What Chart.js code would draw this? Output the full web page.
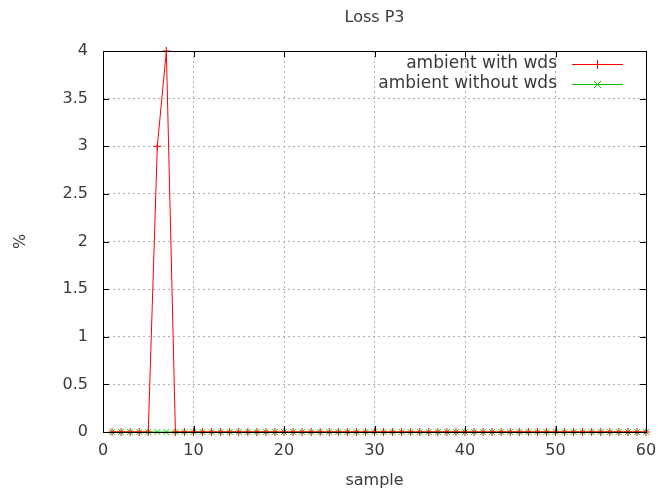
<!DOCTYPE html>
<html>
<head>
<meta charset="utf-8">
<script src="https://cdn.jsdelivr.net/npm/chart.js@4.4.0/dist/chart.umd.min.js"></script>
<style>
  html, body { margin: 0; padding: 0; background: #fff; }
  #wrap { width: 668px; height: 492px; }
</style>
</head>
<body>
<div id="wrap"><canvas id="lossChart" width="668" height="492"></canvas></div>
<script>
// ---- data ----
var samples = [];
for (var i = 1; i <= 60; i++) samples.push(i);
var withWds = [0, 0, 0, 0, 0, 3, 4, 0, 0, 0,
               0, 0, 0, 0, 0, 0, 0, 0, 0, 0,
               0, 0, 0, 0, 0, 0, 0, 0, 0, 0,
               0, 0, 0, 0, 0, 0, 0, 0, 0, 0,
               0, 0, 0, 0, 0, 0, 0, 0, 0, 0,
               0, 0, 0, 0, 0, 0, 0, 0, 0, 0];
var withoutWds = [0, 0, 0, 0, 0, 0, 0, 0, 0, 0,
                  0, 0, 0, 0, 0, 0, 0, 0, 0, 0,
                  0, 0, 0, 0, 0, 0, 0, 0, 0, 0,
                  0, 0, 0, 0, 0, 0, 0, 0, 0, 0,
                  0, 0, 0, 0, 0, 0, 0, 0, 0, 0,
                  0, 0, 0, 0, 0, 0, 0, 0, 0, 0];
var seriesLabels = ['ambient with wds', 'ambient without wds'];
var xTicks = [0, 10, 20, 30, 40, 50, 60];
var yTicks = [0, 0.5, 1, 1.5, 2, 2.5, 3, 3.5, 4];

var FONT = 'DejaVu Sans, sans-serif';
var TXT = '#3a3a3a';

function toPts(vals) {
  return vals.map(function (v, i) { return { x: samples[i], y: v }; });
}

// gnuplot-ish frame, inner ticks, title, axis labels, legend
var gnuFrame = {
  id: 'gnuFrame',
  afterDraw: function (chart) {
    var c = chart.ctx, a = chart.chartArea;
    var xs = chart.scales.x, ys = chart.scales.y;
    c.save();
    c.strokeStyle = '#000';
    c.lineWidth = 1;
    c.beginPath();
    xTicks.forEach(function (t) {
      var px = Math.round(xs.getPixelForValue(t)) + 0.5;
      c.moveTo(px, a.bottom); c.lineTo(px, a.bottom - 6);
      c.moveTo(px, a.top); c.lineTo(px, a.top + 6);
    });
    yTicks.forEach(function (t) {
      var py = Math.round(ys.getPixelForValue(t)) + 0.5;
      c.moveTo(a.left, py); c.lineTo(a.left + 6, py);
      c.moveTo(a.right, py); c.lineTo(a.right - 6, py);
    });
    c.stroke();
    c.strokeRect(Math.round(a.left) + 0.5, Math.round(a.top) + 0.5,
                 Math.round(a.right - a.left), Math.round(a.bottom - a.top));

    c.fillStyle = TXT;
    c.font = '16px ' + FONT;
    c.textAlign = 'center';
    c.textBaseline = 'middle';
    c.fillText('Loss P3', (a.left + a.right) / 2, 18);
    c.fillText('sample', (a.left + a.right) / 2, 481);
    c.save();
    c.translate(21, (a.top + a.bottom) / 2);
    c.rotate(-Math.PI / 2);
    c.fillText('%', 0, 0);
    c.restore();

    // legend
    c.font = '17px ' + FONT;
    c.textAlign = 'right';
    chart.data.datasets.forEach(function (ds, k) {
      var y = 64 + k * 20;
      c.fillStyle = TXT;
      c.fillText(ds.label, 557, y);
      c.strokeStyle = ds.borderColor;
      c.beginPath();
      c.moveTo(572, y + 0.5); c.lineTo(623, y + 0.5);
      c.stroke();
      c.beginPath();
      if (k === 0) {
        c.moveTo(597.5, y - 4); c.lineTo(597.5, y + 5);
        c.moveTo(593, y + 0.5); c.lineTo(602, y + 0.5);
      } else {
        c.moveTo(594, y - 3); c.lineTo(601, y + 4);
        c.moveTo(601, y - 3); c.lineTo(594, y + 4);
      }
      c.stroke();
    });
    c.restore();
  }
};

new Chart(document.getElementById('lossChart').getContext('2d'), {
  type: 'line',
  data: {
    datasets: [
      {
        label: seriesLabels[0], data: toPts(withWds),
        borderColor: '#ff0000', backgroundColor: '#ff0000',
        borderWidth: 1, tension: 0, pointStyle: 'cross',
        pointRadius: 4, pointBorderWidth: 1, clip: false
      },
      {
        label: seriesLabels[1], data: toPts(withoutWds),
        borderColor: '#00c000', backgroundColor: '#00c000',
        borderWidth: 1, tension: 0, pointStyle: 'crossRot',
        pointRadius: 4, pointBorderWidth: 1, clip: false
      }
    ]
  },
  options: {
    responsive: false,
    animation: false,
    layout: { padding: { left: 0, top: 51, right: 22, bottom: 0 } },
    plugins: { legend: { display: false }, title: { display: false }, tooltip: { enabled: false } },
    scales: {
      x: {
        type: 'linear', min: 0, max: 60,
        afterBuildTicks: function (s) { s.ticks = xTicks.map(function (v) { return { value: v }; }); },
        afterFit: function (s) { s.height = 60; },
        border: { display: false, dash: [2, 3] },
        grid: { color: '#b0b0b0', lineWidth: 1, drawTicks: false },
        ticks: { color: TXT, font: { family: FONT, size: 16 }, padding: 9, maxRotation: 0 }
      },
      y: {
        min: 0, max: 4,
        afterBuildTicks: function (s) { s.ticks = yTicks.map(function (v) { return { value: v }; }); },
        afterFit: function (s) { s.width = 103; },
        border: { display: false, dash: [2, 3] },
        grid: { color: '#b0b0b0', lineWidth: 1, drawTicks: false },
        ticks: {
          color: TXT, font: { family: FONT, size: 16 }, padding: 15,
          callback: function (v) { return String(v); }
        }
      }
    }
  },
  plugins: [gnuFrame]
});
</script>
</body>
</html>
